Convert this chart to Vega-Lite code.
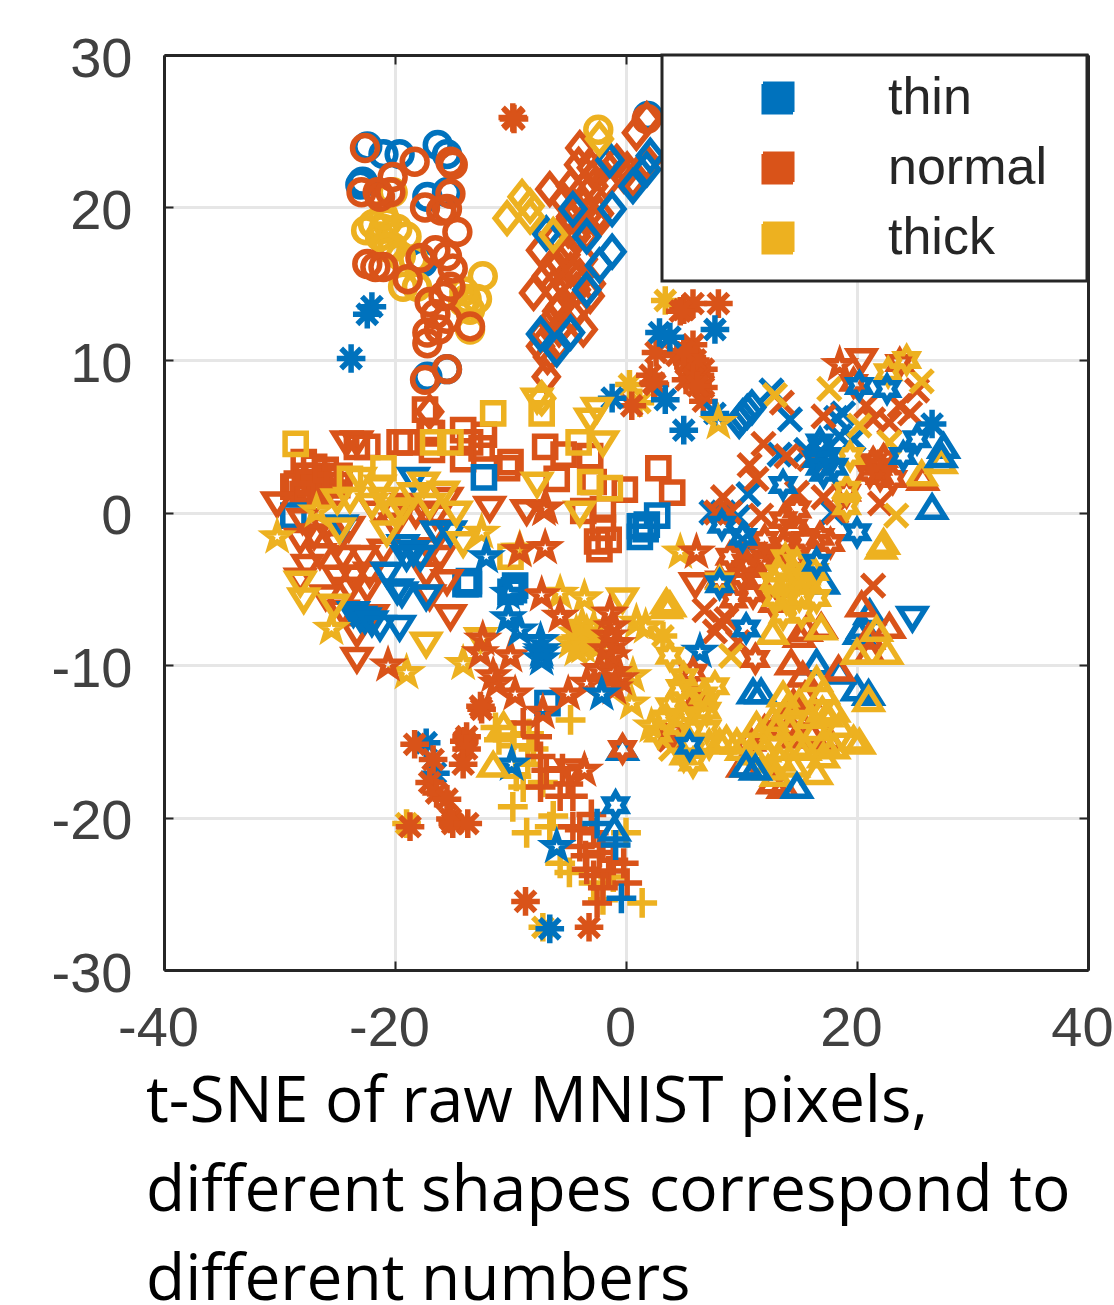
{"$schema":"https://vega.github.io/schema/vega-lite/v6.json","width":924,"height":915,"autosize":{"type":"none"},"padding":{"left":164,"top":55,"right":26,"bottom":335},"background":"white",
"title":{"text":["t-SNE of raw MNIST pixels,","different shapes correspond to","different numbers"],"orient":"bottom","anchor":"start","frame":"group","dx":-18,"offset":15,"font":"Open Sans","fontSize":64,"fontWeight":"normal","lineHeight":89,"color":"#000000"},
"config":{"view":{"stroke":null},"legend":{"strokeWidth":3}},
"layer":[{"data":{"values":[
{"x":12.6,"y":8,"c":"thin","m":"x"},{"x":14.2,"y":6.1,"c":"thin","m":"x"},{"x":18.8,"y":6.5,"c":"thin","m":"x"},{"x":18.2,"y":6.2,"c":"thin","m":"x"},{"x":18.5,"y":5,"c":"thin","m":"x"},{"x":13.3,"y":3.8,"c":"thin","m":"x"},{"x":10.6,"y":1.2,"c":"thin","m":"x"},{"x":8.4,"y":0,"c":"thin","m":"x"},{"x":9.7,"y":-0.3,"c":"thin","m":"x"},{"x":7.4,"y":0,"c":"thin","m":"x"},{"x":17.9,"y":0,"c":"thin","m":"x"},{"x":10.1,"y":-1.8,"c":"thin","m":"x"},{"x":15.6,"y":4.1,"c":"thin","m":"x"},{"x":19.7,"y":4.8,"c":"thin","m":"x"},
{"x":13.5,"y":7.2,"c":"normal","m":"x"},{"x":17.1,"y":6.3,"c":"normal","m":"x"},{"x":11.9,"y":4.5,"c":"normal","m":"x"},{"x":10.7,"y":3.1,"c":"normal","m":"x"},{"x":11.3,"y":2.2,"c":"normal","m":"x"},{"x":13.9,"y":3.7,"c":"normal","m":"x"},{"x":15.9,"y":3.5,"c":"normal","m":"x"},{"x":8.4,"y":1,"c":"normal","m":"x"},{"x":7.8,"y":0,"c":"normal","m":"x"},{"x":9,"y":0,"c":"normal","m":"x"},{"x":11.7,"y":-0.2,"c":"normal","m":"x"},{"x":22,"y":0.6,"c":"normal","m":"x"},{"x":24.6,"y":6.5,"c":"normal","m":"x"},{"x":25.2,"y":8,"c":"normal","m":"x"},{"x":21.4,"y":6.1,"c":"normal","m":"x"},{"x":22.8,"y":5.9,"c":"normal","m":"x"},{"x":20.8,"y":7,"c":"normal","m":"x"},{"x":23.7,"y":7,"c":"normal","m":"x"},{"x":18.2,"y":0,"c":"normal","m":"x"},{"x":14.8,"y":1.3,"c":"normal","m":"x"},{"x":17.1,"y":1,"c":"normal","m":"x"},{"x":6.8,"y":-6.4,"c":"normal","m":"x"},{"x":8.1,"y":-7.2,"c":"normal","m":"x"},{"x":7.7,"y":-7.8,"c":"normal","m":"x"},{"x":21.4,"y":-4.8,"c":"normal","m":"x"},{"x":8.7,"y":-7,"c":"normal","m":"x"},{"x":9.7,"y":-8.5,"c":"normal","m":"x"},{"x":3.8,"y":-14.9,"c":"normal","m":"x"},
{"x":12.9,"y":7.7,"c":"thick","m":"x"},{"x":17.6,"y":8.1,"c":"thick","m":"x"},{"x":25.6,"y":8.6,"c":"thick","m":"x"},{"x":20.2,"y":5.7,"c":"thick","m":"x"},{"x":23.4,"y":-0.2,"c":"thick","m":"x"},{"x":22.8,"y":4.6,"c":"thick","m":"x"},{"x":9.1,"y":-9.4,"c":"thick","m":"x"},{"x":3.9,"y":-15.5,"c":"thick","m":"x"},
{"x":-4.8,"y":-13.6,"c":"thick","m":"t"},{"x":-11.3,"y":-14.1,"c":"thick","m":"t"},{"x":-11,"y":-14.9,"c":"thick","m":"t"},{"x":-9.8,"y":-15.3,"c":"thick","m":"t"},{"x":-9.5,"y":-17.3,"c":"thick","m":"t"},{"x":-8.9,"y":-18,"c":"thick","m":"t"},{"x":-9.8,"y":-19.3,"c":"thick","m":"t"},{"x":-6.3,"y":-19.9,"c":"thick","m":"t"},{"x":-8.6,"y":-21,"c":"thick","m":"t"},{"x":-6.6,"y":-20.6,"c":"thick","m":"t"},{"x":-5.7,"y":-23,"c":"thick","m":"t"},{"x":-4.9,"y":-23.6,"c":"thick","m":"t"},{"x":-2.8,"y":-24.3,"c":"thick","m":"t"},{"x":-1.1,"y":-23.9,"c":"thick","m":"t"},{"x":-2,"y":-25.4,"c":"thick","m":"t"},{"x":1.4,"y":-25.6,"c":"thick","m":"t"},{"x":0,"y":-21,"c":"thick","m":"t"},{"x":-7.2,"y":-17.7,"c":"thick","m":"t"},{"x":-8.4,"y":-14.5,"c":"thick","m":"t"},{"x":-8,"y":-15.5,"c":"thick","m":"t"},{"x":-9.7,"y":-14.6,"c":"thick","m":"t"},{"x":-8.5,"y":-16.5,"c":"thick","m":"t"},
{"x":-8.9,"y":-13.8,"c":"normal","m":"t"},{"x":-7.7,"y":-14.7,"c":"normal","m":"t"},{"x":-7.4,"y":-16,"c":"normal","m":"t"},{"x":-6.9,"y":-16.9,"c":"normal","m":"t"},{"x":-7.4,"y":-18,"c":"normal","m":"t"},{"x":-5.7,"y":-18.6,"c":"normal","m":"t"},{"x":-4.6,"y":-18.6,"c":"normal","m":"t"},{"x":-4,"y":-20.8,"c":"normal","m":"t"},{"x":-2.8,"y":-21,"c":"normal","m":"t"},{"x":-4,"y":-21.9,"c":"normal","m":"t"},{"x":-3.4,"y":-23.4,"c":"normal","m":"t"},{"x":-2.3,"y":-22.3,"c":"normal","m":"t"},{"x":-1.1,"y":-22.8,"c":"normal","m":"t"},{"x":-0.2,"y":-23,"c":"normal","m":"t"},{"x":-2.5,"y":-25.6,"c":"normal","m":"t"},{"x":0.1,"y":-24.3,"c":"normal","m":"t"},{"x":-4.6,"y":-20.6,"c":"normal","m":"t"},{"x":-2,"y":-21.8,"c":"normal","m":"t"},{"x":-3.5,"y":-22.5,"c":"normal","m":"t"},{"x":-1.5,"y":-23.5,"c":"normal","m":"t"},{"x":-2.8,"y":-23.8,"c":"normal","m":"t"},{"x":-3,"y":-19.8,"c":"normal","m":"t"},{"x":-5.5,"y":-16.8,"c":"normal","m":"t"},{"x":-5,"y":-17.8,"c":"normal","m":"t"},{"x":-2,"y":-24.6,"c":"normal","m":"t"},
{"x":-0.4,"y":-25.3,"c":"thin","m":"t"},{"x":-0.9,"y":-21.8,"c":"thin","m":"t"},{"x":-2.5,"y":-20.4,"c":"thin","m":"t"},
{"x":-17.3,"y":-15.1,"c":"thin","m":"a"},{"x":-16.5,"y":-17.1,"c":"thin","m":"a"},{"x":-22,"y":13.5,"c":"thin","m":"a"},{"x":-22.4,"y":13,"c":"thin","m":"a"},{"x":-23.8,"y":10.1,"c":"thin","m":"a"},
{"x":-19,"y":-20.4,"c":"thick","m":"a"},{"x":-7.2,"y":-27.2,"c":"thick","m":"a"},{"x":3.2,"y":-8.1,"c":"thick","m":"a"},{"x":3.4,"y":13.9,"c":"thick","m":"a"},{"x":1.2,"y":7.2,"c":"thick","m":"a"},{"x":0.3,"y":8.4,"c":"thick","m":"a"},
{"x":-12.5,"y":-12.9,"c":"normal","m":"a"},{"x":-12.6,"y":-12.7,"c":"normal","m":"a"},{"x":-13.8,"y":-14.7,"c":"normal","m":"a"},{"x":-14,"y":-15,"c":"normal","m":"a"},{"x":-13.8,"y":-15.5,"c":"normal","m":"a"},{"x":-14.1,"y":-16.5,"c":"normal","m":"a"},{"x":-18.3,"y":-15.2,"c":"normal","m":"a"},{"x":-16.7,"y":-16.2,"c":"normal","m":"a"},{"x":-17,"y":-17.7,"c":"normal","m":"a"},{"x":-16.4,"y":-18.4,"c":"normal","m":"a"},{"x":-15.5,"y":-18.8,"c":"normal","m":"a"},{"x":-15.2,"y":-20.1,"c":"normal","m":"a"},{"x":-15,"y":-20.4,"c":"normal","m":"a"},{"x":-13.7,"y":-20.4,"c":"normal","m":"a"},{"x":-18.7,"y":-20.6,"c":"normal","m":"a"},{"x":-8.7,"y":-25.5,"c":"normal","m":"a"},{"x":-3.2,"y":-27.2,"c":"normal","m":"a"},{"x":-9.8,"y":25.9,"c":"normal","m":"a"},{"x":-9.7,"y":25.8,"c":"normal","m":"a"},{"x":5,"y":13.3,"c":"normal","m":"a"},{"x":5.8,"y":13.7,"c":"normal","m":"a"},{"x":8,"y":13.7,"c":"normal","m":"a"},{"x":4.7,"y":13.2,"c":"normal","m":"a"},{"x":5.8,"y":11,"c":"normal","m":"a"},{"x":2.6,"y":10.5,"c":"normal","m":"a"},{"x":4.4,"y":10.3,"c":"normal","m":"a"},{"x":6.7,"y":9.4,"c":"normal","m":"a"},{"x":5.5,"y":9.4,"c":"normal","m":"a"},{"x":6.4,"y":9,"c":"normal","m":"a"},{"x":5.2,"y":8.7,"c":"normal","m":"a"},{"x":6.7,"y":8.2,"c":"normal","m":"a"},{"x":6.7,"y":7.3,"c":"normal","m":"a"},{"x":2.4,"y":8.5,"c":"normal","m":"a"},{"x":2.1,"y":9,"c":"normal","m":"a"},{"x":0.5,"y":7,"c":"normal","m":"a"},{"x":2.5,"y":8.4,"c":"normal","m":"a"},{"x":5.3,"y":9.8,"c":"normal","m":"a"},{"x":6,"y":10,"c":"normal","m":"a"},{"x":5.8,"y":8.8,"c":"normal","m":"a"},{"x":6.2,"y":8.3,"c":"normal","m":"a"},{"x":5,"y":10.6,"c":"normal","m":"a"},
{"x":2.9,"y":11.8,"c":"thin","m":"a"},{"x":3.8,"y":11.5,"c":"thin","m":"a"},{"x":7.7,"y":12,"c":"thin","m":"a"},{"x":3.4,"y":7.4,"c":"thin","m":"a"},{"x":5,"y":5.4,"c":"thin","m":"a"},{"x":7.7,"y":6.5,"c":"thin","m":"a"},{"x":-1.2,"y":7.5,"c":"thin","m":"a"},{"x":-6.6,"y":-27.3,"c":"thin","m":"a"},
{"x":-22.4,"y":24,"c":"thin","m":"o"},{"x":-21,"y":23.5,"c":"thin","m":"o"},{"x":-19.6,"y":23.5,"c":"thin","m":"o"},{"x":-16.3,"y":24.1,"c":"thin","m":"o"},{"x":-15.5,"y":23.5,"c":"thin","m":"o"},{"x":-22.8,"y":21.7,"c":"thin","m":"o"},{"x":-23,"y":21.5,"c":"thin","m":"o"},{"x":-17.2,"y":20.7,"c":"thin","m":"o"},{"x":-15.5,"y":21,"c":"thin","m":"o"},{"x":-17.6,"y":16.4,"c":"thin","m":"o"},{"x":-17.2,"y":8.9,"c":"thin","m":"o"},{"x":-15.5,"y":9.4,"c":"thin","m":"o"},{"x":1.9,"y":26,"c":"thin","m":"o"},
{"x":-21.9,"y":18.9,"c":"thick","m":"o"},{"x":-20.7,"y":19,"c":"thick","m":"o"},{"x":-19.8,"y":18.6,"c":"thick","m":"o"},{"x":-21.3,"y":18.1,"c":"thick","m":"o"},{"x":-20.2,"y":17.4,"c":"thick","m":"o"},{"x":-19,"y":18.1,"c":"thick","m":"o"},{"x":-21,"y":18.6,"c":"thick","m":"o"},{"x":-20.2,"y":21,"c":"thick","m":"o"},{"x":-19.3,"y":14.8,"c":"thick","m":"o"},{"x":-18.1,"y":14.8,"c":"thick","m":"o"},{"x":-13.8,"y":14,"c":"thick","m":"o"},{"x":-12.9,"y":14,"c":"thick","m":"o"},{"x":-12.4,"y":15.5,"c":"thick","m":"o"},{"x":-13.5,"y":12,"c":"thick","m":"o"},{"x":-14.1,"y":13.8,"c":"thick","m":"o"},{"x":-18.4,"y":16.6,"c":"thick","m":"o"},{"x":-20.7,"y":17.4,"c":"thick","m":"o"},{"x":-2.4,"y":25.1,"c":"thick","m":"o"},{"x":-22.5,"y":18.5,"c":"thick","m":"o"},{"x":-19.5,"y":16.8,"c":"thick","m":"o"},{"x":-13.5,"y":13.3,"c":"thick","m":"o"},{"x":-14,"y":14.5,"c":"thick","m":"o"},{"x":-21,"y":19.5,"c":"thick","m":"o"},
{"x":-22.6,"y":23.9,"c":"normal","m":"o"},{"x":-18.3,"y":23,"c":"normal","m":"o"},{"x":-20.2,"y":22,"c":"normal","m":"o"},{"x":-15.2,"y":23,"c":"normal","m":"o"},{"x":-15,"y":22.8,"c":"normal","m":"o"},{"x":-22.9,"y":21,"c":"normal","m":"o"},{"x":-21.3,"y":20.7,"c":"normal","m":"o"},{"x":-20.4,"y":21,"c":"normal","m":"o"},{"x":-17.4,"y":20,"c":"normal","m":"o"},{"x":-15.2,"y":20.9,"c":"normal","m":"o"},{"x":-15.5,"y":19.9,"c":"normal","m":"o"},{"x":-14.6,"y":18.4,"c":"normal","m":"o"},{"x":-22.4,"y":16.3,"c":"normal","m":"o"},{"x":-21.7,"y":16.1,"c":"normal","m":"o"},{"x":-21,"y":16.1,"c":"normal","m":"o"},{"x":-17.8,"y":16.7,"c":"normal","m":"o"},{"x":-16.5,"y":17.2,"c":"normal","m":"o"},{"x":-15.5,"y":16.8,"c":"normal","m":"o"},{"x":-15.2,"y":14.8,"c":"normal","m":"o"},{"x":-18.9,"y":15.3,"c":"normal","m":"o"},{"x":-17,"y":13.8,"c":"normal","m":"o"},{"x":-15.5,"y":12.7,"c":"normal","m":"o"},{"x":-17.2,"y":11.8,"c":"normal","m":"o"},{"x":-17.2,"y":11.1,"c":"normal","m":"o"},{"x":-15.5,"y":9.4,"c":"normal","m":"o"},{"x":-17.4,"y":8.7,"c":"normal","m":"o"},{"x":-13.5,"y":12.2,"c":"normal","m":"o"},{"x":-15.8,"y":14.2,"c":"normal","m":"o"},{"x":1.8,"y":25.8,"c":"normal","m":"o"},{"x":-16.2,"y":12,"c":"normal","m":"o"},{"x":-16.5,"y":13,"c":"normal","m":"o"},{"x":-15,"y":16,"c":"normal","m":"o"},{"x":-16,"y":19.8,"c":"normal","m":"o"},{"x":-21.5,"y":21,"c":"normal","m":"o"},
{"x":-4,"y":23.9,"c":"normal","m":"d"},{"x":-4.1,"y":22.8,"c":"normal","m":"d"},{"x":-6.6,"y":21.2,"c":"normal","m":"d"},{"x":-5.4,"y":20.5,"c":"normal","m":"d"},{"x":-2.5,"y":22.3,"c":"normal","m":"d"},{"x":-2.8,"y":21.4,"c":"normal","m":"d"},{"x":-1.7,"y":21.6,"c":"normal","m":"d"},{"x":-3.7,"y":21.2,"c":"normal","m":"d"},{"x":-4.8,"y":21.4,"c":"normal","m":"d"},{"x":0.1,"y":22.5,"c":"normal","m":"d"},{"x":0.9,"y":24.9,"c":"normal","m":"d"},{"x":1.8,"y":25.8,"c":"normal","m":"d"},{"x":-0.2,"y":22.1,"c":"normal","m":"d"},{"x":0.6,"y":21.8,"c":"normal","m":"d"},{"x":1.8,"y":23,"c":"normal","m":"d"},{"x":-4.8,"y":19.4,"c":"normal","m":"d"},{"x":-3.7,"y":20.1,"c":"normal","m":"d"},{"x":-2.3,"y":19.6,"c":"normal","m":"d"},{"x":-2.5,"y":19,"c":"normal","m":"d"},{"x":-7.4,"y":17.2,"c":"normal","m":"d"},{"x":-6,"y":18.1,"c":"normal","m":"d"},{"x":-5.1,"y":17.2,"c":"normal","m":"d"},{"x":-4.3,"y":18.1,"c":"normal","m":"d"},{"x":-3.4,"y":18.3,"c":"normal","m":"d"},{"x":-6.9,"y":15.5,"c":"normal","m":"d"},{"x":-5.7,"y":16.4,"c":"normal","m":"d"},{"x":-4.8,"y":15.9,"c":"normal","m":"d"},{"x":-3.7,"y":16.6,"c":"normal","m":"d"},{"x":-8,"y":14.4,"c":"normal","m":"d"},{"x":-6.3,"y":14.8,"c":"normal","m":"d"},{"x":-5.1,"y":14.8,"c":"normal","m":"d"},{"x":-3.1,"y":14.2,"c":"normal","m":"d"},{"x":-4.3,"y":14.6,"c":"normal","m":"d"},{"x":-7.2,"y":11.8,"c":"normal","m":"d"},{"x":-5.7,"y":13.5,"c":"normal","m":"d"},{"x":-4.6,"y":12.9,"c":"normal","m":"d"},{"x":-3.7,"y":12,"c":"normal","m":"d"},{"x":-7.4,"y":10.9,"c":"normal","m":"d"},{"x":-6,"y":10.9,"c":"normal","m":"d"},{"x":-5.4,"y":12.4,"c":"normal","m":"d"},{"x":-6.9,"y":8.9,"c":"normal","m":"d"},{"x":-17,"y":6.6,"c":"normal","m":"d"},{"x":-6.2,"y":16,"c":"normal","m":"d"},{"x":-5.2,"y":16.9,"c":"normal","m":"d"},{"x":-6,"y":13.2,"c":"normal","m":"d"},{"x":-5.8,"y":12,"c":"normal","m":"d"},{"x":-4.2,"y":13.4,"c":"normal","m":"d"},{"x":-3,"y":15,"c":"normal","m":"d"},{"x":-6.5,"y":12.5,"c":"normal","m":"d"},{"x":-4.4,"y":20,"c":"normal","m":"d"},{"x":-3.3,"y":19.5,"c":"normal","m":"d"},{"x":-3,"y":22.6,"c":"normal","m":"d"},{"x":-1.8,"y":22.8,"c":"normal","m":"d"},{"x":-0.8,"y":23,"c":"normal","m":"d"},{"x":-6.8,"y":10.2,"c":"normal","m":"d"},{"x":-5,"y":18.5,"c":"normal","m":"d"},{"x":-3.8,"y":18.8,"c":"normal","m":"d"},{"x":-4,"y":15.5,"c":"normal","m":"d"},
{"x":-4.6,"y":19.9,"c":"thin","m":"d"},{"x":-1.2,"y":19.9,"c":"thin","m":"d"},{"x":-1.2,"y":17.1,"c":"thin","m":"d"},{"x":-2.3,"y":16.2,"c":"thin","m":"d"},{"x":-3.4,"y":14.6,"c":"thin","m":"d"},{"x":-6.9,"y":18.3,"c":"thin","m":"d"},{"x":-1.4,"y":23.1,"c":"thin","m":"d"},{"x":0.6,"y":21.4,"c":"thin","m":"d"},{"x":1.8,"y":22.5,"c":"thin","m":"d"},{"x":2.1,"y":23.4,"c":"thin","m":"d"},{"x":-7.4,"y":11.7,"c":"thin","m":"d"},{"x":-6,"y":10.7,"c":"thin","m":"d"},{"x":-4.8,"y":11.8,"c":"thin","m":"d"},{"x":-3.4,"y":18.1,"c":"thin","m":"d"},{"x":10.9,"y":6.9,"c":"thin","m":"d"},{"x":10.5,"y":6.6,"c":"thin","m":"d"},{"x":10.1,"y":6.3,"c":"thin","m":"d"},{"x":9.8,"y":6,"c":"thin","m":"d"},
{"x":-10.3,"y":19.3,"c":"thick","m":"d"},{"x":-9,"y":20.7,"c":"thick","m":"d"},{"x":-8.3,"y":20.1,"c":"thick","m":"d"},{"x":-8.3,"y":19.4,"c":"thick","m":"d"},{"x":-6.3,"y":18.2,"c":"thick","m":"d"},{"x":-2.3,"y":24.5,"c":"thick","m":"d"},{"x":-7.3,"y":7.5,"c":"thick","m":"d"},
{"x":-17.4,"y":6.75,"c":"normal","m":"s"},{"x":-16.8,"y":5.2,"c":"normal","m":"s"},{"x":-27.9,"y":3.3,"c":"normal","m":"s"},{"x":-28.5,"y":1.9,"c":"normal","m":"s"},{"x":-27.6,"y":2.4,"c":"normal","m":"s"},{"x":-26.8,"y":2.4,"c":"normal","m":"s"},{"x":-25.6,"y":2.2,"c":"normal","m":"s"},{"x":-24.8,"y":2.4,"c":"normal","m":"s"},{"x":-28.8,"y":1.7,"c":"normal","m":"s"},{"x":-27.8,"y":1.5,"c":"normal","m":"s"},{"x":-26.5,"y":1.5,"c":"normal","m":"s"},{"x":-25.3,"y":1.3,"c":"normal","m":"s"},{"x":-23.3,"y":4.3,"c":"normal","m":"s"},{"x":-22.4,"y":4.3,"c":"normal","m":"s"},{"x":-19.6,"y":4.6,"c":"normal","m":"s"},{"x":-19,"y":4.6,"c":"normal","m":"s"},{"x":-17,"y":5.2,"c":"normal","m":"s"},{"x":-16.8,"y":4.1,"c":"normal","m":"s"},{"x":-14.1,"y":5.4,"c":"normal","m":"s"},{"x":-12.3,"y":5.1,"c":"normal","m":"s"},{"x":-14.1,"y":3.5,"c":"normal","m":"s"},{"x":-13.5,"y":4.6,"c":"normal","m":"s"},{"x":-12.5,"y":4.2,"c":"normal","m":"s"},{"x":-10.3,"y":2.9,"c":"normal","m":"s"},{"x":-10,"y":3.3,"c":"normal","m":"s"},{"x":-7,"y":4.3,"c":"normal","m":"s"},{"x":-5.4,"y":3.8,"c":"normal","m":"s"},{"x":-3.1,"y":3.7,"c":"normal","m":"s"},{"x":-6,"y":2.2,"c":"normal","m":"s"},{"x":-2.8,"y":2,"c":"normal","m":"s"},{"x":-0.1,"y":1.5,"c":"normal","m":"s"},{"x":2.8,"y":2.9,"c":"normal","m":"s"},{"x":4,"y":1.3,"c":"normal","m":"s"},{"x":-2,"y":0.2,"c":"normal","m":"s"},{"x":-3.7,"y":0.1,"c":"normal","m":"s"},{"x":-2,"y":-1,"c":"normal","m":"s"},{"x":-1.5,"y":-1.8,"c":"normal","m":"s"},{"x":-2.3,"y":-2.4,"c":"normal","m":"s"},{"x":-2.5,"y":-1.9,"c":"normal","m":"s"},{"x":-27,"y":3,"c":"normal","m":"s"},{"x":-27.5,"y":2,"c":"normal","m":"s"},{"x":-26,"y":1.8,"c":"normal","m":"s"},{"x":-28,"y":1.2,"c":"normal","m":"s"},{"x":-26,"y":2.8,"c":"normal","m":"s"},{"x":-25,"y":1.8,"c":"normal","m":"s"},
{"x":-12.3,"y":2.3,"c":"thin","m":"s"},{"x":-13.8,"y":-4.6,"c":"thin","m":"s"},{"x":-13.6,"y":-4.5,"c":"thin","m":"s"},{"x":-13.9,"y":-4.7,"c":"thin","m":"s"},{"x":-13.7,"y":-4.6,"c":"thin","m":"s"},{"x":-13.6,"y":-4.7,"c":"thin","m":"s"},{"x":-9.6,"y":-4.8,"c":"thin","m":"s"},{"x":-9.7,"y":-5.1,"c":"thin","m":"s"},{"x":-10,"y":-5.2,"c":"thin","m":"s"},{"x":-28.8,"y":-0.2,"c":"thin","m":"s"},{"x":1.2,"y":-1.6,"c":"thin","m":"s"},{"x":1.8,"y":-0.8,"c":"thin","m":"s"},{"x":2.7,"y":-0.2,"c":"thin","m":"s"},{"x":1.7,"y":-1.1,"c":"thin","m":"s"},{"x":1.2,"y":-0.9,"c":"thin","m":"s"},{"x":-6.8,"y":-12.5,"c":"thin","m":"s"},
{"x":-28.6,"y":4.5,"c":"thick","m":"s"},{"x":-11.5,"y":6.5,"c":"thick","m":"s"},{"x":-7.3,"y":6.5,"c":"thick","m":"s"},{"x":-21,"y":2.9,"c":"thick","m":"s"},{"x":-16.7,"y":4.6,"c":"thick","m":"s"},{"x":-15.2,"y":4.6,"c":"thick","m":"s"},{"x":-3.1,"y":2,"c":"thick","m":"s"},{"x":-1.4,"y":1.6,"c":"thick","m":"s"},{"x":-10,"y":-2.9,"c":"thick","m":"s"},{"x":-4.1,"y":4.6,"c":"thick","m":"s"},{"x":-23.9,"y":2.2,"c":"thick","m":"s"},
{"x":-30.2,"y":0.6,"c":"normal","m":"v"},{"x":-24.2,"y":4.6,"c":"normal","m":"v"},{"x":-23.3,"y":4.6,"c":"normal","m":"v"},{"x":-11.8,"y":0.3,"c":"normal","m":"v"},{"x":-8.6,"y":0.1,"c":"normal","m":"v"},{"x":-15.5,"y":0.9,"c":"normal","m":"v"},{"x":-17.3,"y":0,"c":"normal","m":"v"},{"x":-16.5,"y":-0.2,"c":"normal","m":"v"},{"x":-18.2,"y":-0.1,"c":"normal","m":"v"},{"x":-21.6,"y":0,"c":"normal","m":"v"},{"x":-28.2,"y":-1.8,"c":"normal","m":"v"},{"x":-27.6,"y":-3.5,"c":"normal","m":"v"},{"x":-28.2,"y":-4.4,"c":"normal","m":"v"},{"x":-24.5,"y":-2.9,"c":"normal","m":"v"},{"x":-22.7,"y":-2.9,"c":"normal","m":"v"},{"x":-25,"y":-4.2,"c":"normal","m":"v"},{"x":-23.6,"y":-4.2,"c":"normal","m":"v"},{"x":-22.2,"y":-4,"c":"normal","m":"v"},{"x":-23.9,"y":-5,"c":"normal","m":"v"},{"x":-22.4,"y":-5,"c":"normal","m":"v"},{"x":-17,"y":-2.4,"c":"normal","m":"v"},{"x":-16.1,"y":-2.9,"c":"normal","m":"v"},{"x":-17.3,"y":-4,"c":"normal","m":"v"},{"x":-17,"y":-5.5,"c":"normal","m":"v"},{"x":-15.2,"y":-6.8,"c":"normal","m":"v"},{"x":-21.9,"y":-6.8,"c":"normal","m":"v"},{"x":-23.3,"y":-7.9,"c":"normal","m":"v"},{"x":-23.3,"y":-9.6,"c":"normal","m":"v"},{"x":6,"y":-4.7,"c":"normal","m":"v"},{"x":20.4,"y":10,"c":"normal","m":"v"},{"x":-4.8,"y":-16.9,"c":"normal","m":"v"},{"x":-26,"y":-1,"c":"normal","m":"v"},{"x":-25,"y":-2,"c":"normal","m":"v"},{"x":-28,"y":-0.5,"c":"normal","m":"v"},{"x":-26.5,"y":-2.8,"c":"normal","m":"v"},{"x":-24,"y":-1,"c":"normal","m":"v"},{"x":-21,"y":-2.5,"c":"normal","m":"v"},{"x":-20,"y":-0.8,"c":"normal","m":"v"},{"x":-19,"y":0.5,"c":"normal","m":"v"},{"x":-26,"y":-5.5,"c":"normal","m":"v"},{"x":-24.5,"y":-6.5,"c":"normal","m":"v"},{"x":-16.5,"y":-1.2,"c":"normal","m":"v"},{"x":-15.5,"y":-4.5,"c":"normal","m":"v"},{"x":-27,"y":-1.5,"c":"normal","m":"v"},
{"x":-18.4,"y":2.2,"c":"thin","m":"v"},{"x":-24.6,"y":-0.9,"c":"thin","m":"v"},{"x":-19.3,"y":-2.2,"c":"thin","m":"v"},{"x":-18.4,"y":-2.6,"c":"thin","m":"v"},{"x":-17.8,"y":-2.9,"c":"thin","m":"v"},{"x":-19,"y":-2.9,"c":"thin","m":"v"},{"x":-15.2,"y":-1.3,"c":"thin","m":"v"},{"x":-16.4,"y":-1.3,"c":"thin","m":"v"},{"x":-19.4,"y":-5.3,"c":"thin","m":"v"},{"x":-19.8,"y":-5.1,"c":"thin","m":"v"},{"x":-17.3,"y":-5.5,"c":"thin","m":"v"},{"x":-23.6,"y":-6.6,"c":"thin","m":"v"},{"x":-22.6,"y":-7,"c":"thin","m":"v"},{"x":-21.3,"y":-7.5,"c":"thin","m":"v"},{"x":-19.6,"y":-7.5,"c":"thin","m":"v"},{"x":-23,"y":-6.9,"c":"thin","m":"v"},{"x":-22,"y":-7.2,"c":"thin","m":"v"},{"x":-20.7,"y":-4,"c":"thin","m":"v"},{"x":24.8,"y":-6.9,"c":"thin","m":"v"},
{"x":-17.5,"y":1.9,"c":"thick","m":"v"},{"x":-15.8,"y":1.3,"c":"thick","m":"v"},{"x":-23,"y":2.2,"c":"thick","m":"v"},{"x":-21.3,"y":1.7,"c":"thick","m":"v"},{"x":-14.7,"y":0,"c":"thick","m":"v"},{"x":-20.7,"y":-1.3,"c":"thick","m":"v"},{"x":-24.8,"y":-1.1,"c":"thick","m":"v"},{"x":-14.1,"y":-2,"c":"thick","m":"v"},{"x":-28.2,"y":-4.6,"c":"thick","m":"v"},{"x":-27.9,"y":-5.7,"c":"thick","m":"v"},{"x":-17.3,"y":-8.6,"c":"thick","m":"v"},{"x":-25.3,"y":-6.1,"c":"thick","m":"v"},{"x":-7.7,"y":1.9,"c":"thick","m":"v"},{"x":-2,"y":4.6,"c":"thick","m":"v"},{"x":-3.1,"y":6.1,"c":"thick","m":"v"},{"x":-2.5,"y":6.8,"c":"thick","m":"v"},{"x":-7.7,"y":7.4,"c":"thick","m":"v"},{"x":-4,"y":0,"c":"thick","m":"v"},{"x":-12.6,"y":-8.3,"c":"thick","m":"v"},{"x":-19.3,"y":0.2,"c":"thick","m":"v"},{"x":-23.9,"y":0.9,"c":"thick","m":"v"},{"x":-21,"y":0.9,"c":"thick","m":"v"},{"x":-18.4,"y":1.2,"c":"thick","m":"v"},{"x":-0.3,"y":-5.7,"c":"thick","m":"v"},{"x":-25,"y":0.8,"c":"thick","m":"v"},{"x":-22,"y":0.5,"c":"thick","m":"v"},{"x":-20,"y":0,"c":"thick","m":"v"},{"x":-17,"y":0.5,"c":"thick","m":"v"},
{"x":-5.7,"y":-5.3,"c":"thick","m":"p"},{"x":-3.6,"y":-5.6,"c":"thick","m":"p"},{"x":-3.4,"y":-7.9,"c":"thick","m":"p"},{"x":-4.3,"y":-7.9,"c":"thick","m":"p"},{"x":-2.8,"y":-7.6,"c":"thick","m":"p"},{"x":-3.7,"y":-8.8,"c":"thick","m":"p"},{"x":-4.3,"y":-9,"c":"thick","m":"p"},{"x":-2.5,"y":-8.8,"c":"thick","m":"p"},{"x":0.9,"y":-7.2,"c":"thick","m":"p"},{"x":0.6,"y":-10.7,"c":"thick","m":"p"},{"x":0.5,"y":-12.5,"c":"thick","m":"p"},{"x":-14.1,"y":-9.9,"c":"thick","m":"p"},{"x":-19,"y":-10.5,"c":"thick","m":"p"},{"x":2.2,"y":-14,"c":"thick","m":"p"},{"x":-26.8,"y":0.1,"c":"thick","m":"p"},{"x":-30.2,"y":-1.6,"c":"thick","m":"p"},{"x":-12.5,"y":-1.3,"c":"thick","m":"p"},{"x":-9.2,"y":-2.4,"c":"thick","m":"p"},{"x":-25.5,"y":-7.6,"c":"thick","m":"p"},{"x":8,"y":5.9,"c":"thick","m":"p"},{"x":4.7,"y":-2.6,"c":"thick","m":"p"},{"x":-4,"y":-8.4,"c":"thick","m":"p"},{"x":-3.2,"y":-8.5,"c":"thick","m":"p"},{"x":-4.8,"y":-8.5,"c":"thick","m":"p"},{"x":-3.8,"y":-7.4,"c":"thick","m":"p"},{"x":1.7,"y":-7.5,"c":"thick","m":"p"},
{"x":-7.3,"y":-5.4,"c":"normal","m":"p"},{"x":-5.7,"y":-6.8,"c":"normal","m":"p"},{"x":-12.4,"y":-8.3,"c":"normal","m":"p"},{"x":-12.6,"y":-9.2,"c":"normal","m":"p"},{"x":-10,"y":-9.4,"c":"normal","m":"p"},{"x":-11.5,"y":-10.7,"c":"normal","m":"p"},{"x":-11.2,"y":-11.2,"c":"normal","m":"p"},{"x":-9.6,"y":-11.9,"c":"normal","m":"p"},{"x":-5,"y":-11.9,"c":"normal","m":"p"},{"x":-3.4,"y":-11.2,"c":"normal","m":"p"},{"x":-1.4,"y":-6.6,"c":"normal","m":"p"},{"x":-1.4,"y":-8.1,"c":"normal","m":"p"},{"x":-1.1,"y":-9.4,"c":"normal","m":"p"},{"x":-1.1,"y":-10.5,"c":"normal","m":"p"},{"x":-0.5,"y":-10.9,"c":"normal","m":"p"},{"x":-2.3,"y":-10.3,"c":"normal","m":"p"},{"x":-1.7,"y":-9,"c":"normal","m":"p"},{"x":-7.2,"y":-13.1,"c":"normal","m":"p"},{"x":-3.6,"y":-16.9,"c":"normal","m":"p"},{"x":-20.6,"y":-10,"c":"normal","m":"p"},{"x":-7,"y":-2.3,"c":"normal","m":"p"},{"x":-9.2,"y":-2.5,"c":"normal","m":"p"},{"x":-7.1,"y":0.2,"c":"normal","m":"p"},{"x":-6.9,"y":0.3,"c":"normal","m":"p"},{"x":6.1,"y":-2.6,"c":"normal","m":"p"},{"x":18.5,"y":9.7,"c":"normal","m":"p"},{"x":-1.2,"y":-7.5,"c":"normal","m":"p"},{"x":-0.8,"y":-8.6,"c":"normal","m":"p"},{"x":-1,"y":-11.5,"c":"normal","m":"p"},
{"x":-10.2,"y":-6.9,"c":"thin","m":"p"},{"x":-9.2,"y":-7.7,"c":"thin","m":"p"},{"x":-7.4,"y":-8.4,"c":"thin","m":"p"},{"x":-7.3,"y":-9.2,"c":"thin","m":"p"},{"x":-7.3,"y":-9.6,"c":"thin","m":"p"},{"x":-7.3,"y":-9,"c":"thin","m":"p"},{"x":-9.9,"y":-16.5,"c":"thin","m":"p"},{"x":-6,"y":-21.9,"c":"thin","m":"p"},{"x":-2.1,"y":-11.9,"c":"thin","m":"p"},{"x":-10.2,"y":-5.3,"c":"thin","m":"p"},{"x":-12.1,"y":-2.9,"c":"thin","m":"p"},{"x":6.4,"y":-9.1,"c":"thin","m":"p"},
{"x":17.1,"y":-4.6,"c":"thin","m":"u"},{"x":21.1,"y":-6.6,"c":"thin","m":"u"},{"x":20.5,"y":-7.5,"c":"thin","m":"u"},{"x":20.2,"y":-7.9,"c":"thin","m":"u"},{"x":16.5,"y":-9.9,"c":"thin","m":"u"},{"x":11,"y":-11.8,"c":"thin","m":"u"},{"x":11.7,"y":-11.8,"c":"thin","m":"u"},{"x":20,"y":-11.6,"c":"thin","m":"u"},{"x":21,"y":-11.9,"c":"thin","m":"u"},{"x":18.5,"y":-10.5,"c":"thin","m":"u"},{"x":27.5,"y":4.3,"c":"thin","m":"u"},{"x":-0.3,"y":-15.5,"c":"thin","m":"u"},{"x":-1,"y":-20.8,"c":"thin","m":"u"},
{"x":15.6,"y":-7.7,"c":"normal","m":"u"},{"x":15,"y":-8.1,"c":"normal","m":"u"},{"x":16.9,"y":-7.5,"c":"normal","m":"u"},{"x":14.3,"y":-9.9,"c":"normal","m":"u"},{"x":15.3,"y":-10.7,"c":"normal","m":"u"},{"x":18.4,"y":-10.3,"c":"normal","m":"u"},{"x":20.4,"y":-6.1,"c":"normal","m":"u"},{"x":22.8,"y":-7.5,"c":"normal","m":"u"},{"x":21.1,"y":-9.2,"c":"normal","m":"u"},{"x":10.7,"y":-14.9,"c":"normal","m":"u"},{"x":14.5,"y":-12.5,"c":"normal","m":"u"},{"x":13.6,"y":-13.3,"c":"normal","m":"u"},{"x":14.8,"y":-13.3,"c":"normal","m":"u"},{"x":10.1,"y":-16.6,"c":"normal","m":"u"},{"x":12.7,"y":-17.7,"c":"normal","m":"u"},{"x":13.6,"y":-18,"c":"normal","m":"u"},{"x":25.7,"y":2.2,"c":"normal","m":"u"},{"x":13,"y":-14,"c":"normal","m":"u"},{"x":12,"y":-14.2,"c":"normal","m":"u"},{"x":15.5,"y":-12,"c":"normal","m":"u"},{"x":16,"y":-14.5,"c":"normal","m":"u"},{"x":17.5,"y":-14.8,"c":"normal","m":"u"},{"x":14.8,"y":-14.7,"c":"normal","m":"u"},{"x":21,"y":-8.2,"c":"normal","m":"u"},
{"x":3.5,"y":-5.9,"c":"thick","m":"u"},{"x":3.5,"y":-6.2,"c":"thick","m":"u"},{"x":3.8,"y":-6.1,"c":"thick","m":"u"},{"x":12.7,"y":-7.9,"c":"thick","m":"u"},{"x":16.9,"y":-7.6,"c":"thick","m":"u"},{"x":21.7,"y":-7.7,"c":"thick","m":"u"},{"x":22.6,"y":-9.2,"c":"thick","m":"u"},{"x":20,"y":-9.2,"c":"thick","m":"u"},{"x":22.3,"y":-2,"c":"thick","m":"u"},{"x":22.1,"y":-2.3,"c":"thick","m":"u"},{"x":13.6,"y":-12,"c":"thick","m":"u"},{"x":16.5,"y":-11,"c":"thick","m":"u"},{"x":17.1,"y":-11.8,"c":"thick","m":"u"},{"x":21,"y":-12.3,"c":"thick","m":"u"},{"x":11.3,"y":-14,"c":"thick","m":"u"},{"x":12.7,"y":-13.6,"c":"thick","m":"u"},{"x":8.7,"y":-14.9,"c":"thick","m":"u"},{"x":8.1,"y":-15.1,"c":"thick","m":"u"},{"x":9.6,"y":-15.1,"c":"thick","m":"u"},{"x":14.2,"y":-14.2,"c":"thick","m":"u"},{"x":16.5,"y":-14.2,"c":"thick","m":"u"},{"x":17.4,"y":-13.3,"c":"thick","m":"u"},{"x":18.5,"y":-14,"c":"thick","m":"u"},{"x":20.2,"y":-15.1,"c":"thick","m":"u"},{"x":19.7,"y":-14.9,"c":"thick","m":"u"},{"x":17.1,"y":-15.1,"c":"thick","m":"u"},{"x":13.6,"y":-15.5,"c":"thick","m":"u"},{"x":14.8,"y":-15.3,"c":"thick","m":"u"},{"x":16.5,"y":-17.1,"c":"thick","m":"u"},{"x":12.3,"y":-16.8,"c":"thick","m":"u"},{"x":13.3,"y":-16.2,"c":"thick","m":"u"},{"x":17.1,"y":-16,"c":"thick","m":"u"},{"x":27.3,"y":3.3,"c":"thick","m":"u"},{"x":25.6,"y":2.5,"c":"thick","m":"u"},{"x":-11.5,"y":-16.6,"c":"thick","m":"u"},{"x":-10.6,"y":-14,"c":"thick","m":"u"},{"x":10,"y":-15.5,"c":"thick","m":"u"},{"x":11.5,"y":-14.8,"c":"thick","m":"u"},{"x":13,"y":-14.2,"c":"thick","m":"u"},{"x":14,"y":-12.8,"c":"thick","m":"u"},{"x":15,"y":-12.5,"c":"thick","m":"u"},{"x":16,"y":-13.4,"c":"thick","m":"u"},{"x":17,"y":-13,"c":"thick","m":"u"},{"x":18,"y":-13,"c":"thick","m":"u"},{"x":15.5,"y":-15.5,"c":"thick","m":"u"},{"x":14.5,"y":-16.6,"c":"thick","m":"u"},{"x":13,"y":-17.2,"c":"thick","m":"u"},{"x":12,"y":-15.6,"c":"thick","m":"u"},{"x":11,"y":-15.8,"c":"thick","m":"u"},{"x":18,"y":-15.4,"c":"thick","m":"u"},
{"x":27.3,"y":3.7,"c":"thin","m":"u"},{"x":26.5,"y":0.3,"c":"thin","m":"u"},{"x":10.4,"y":-16.6,"c":"thin","m":"u"},{"x":11.2,"y":-16.8,"c":"thin","m":"u"},{"x":14.8,"y":-18,"c":"thin","m":"u"},
{"x":19.7,"y":8.5,"c":"normal","m":"h"},{"x":23.7,"y":9.8,"c":"normal","m":"h"},{"x":21.4,"y":3.3,"c":"normal","m":"h"},{"x":22.3,"y":3.5,"c":"normal","m":"h"},{"x":21.1,"y":2.6,"c":"normal","m":"h"},{"x":23.1,"y":2.2,"c":"normal","m":"h"},{"x":14.8,"y":0.2,"c":"normal","m":"h"},{"x":13.6,"y":-0.5,"c":"normal","m":"h"},{"x":10.4,"y":-3.3,"c":"normal","m":"h"},{"x":9,"y":-2.9,"c":"normal","m":"h"},{"x":13.6,"y":-2.2,"c":"normal","m":"h"},{"x":17.7,"y":-2,"c":"normal","m":"h"},{"x":15.6,"y":-1.8,"c":"normal","m":"h"},{"x":16.8,"y":-1.6,"c":"normal","m":"h"},{"x":19.1,"y":1.3,"c":"normal","m":"h"},{"x":8.1,"y":-4.4,"c":"normal","m":"h"},{"x":9.3,"y":-5.7,"c":"normal","m":"h"},{"x":11,"y":-5.3,"c":"normal","m":"h"},{"x":10.4,"y":-3.7,"c":"normal","m":"h"},{"x":12.7,"y":-6,"c":"normal","m":"h"},{"x":11.2,"y":-9.6,"c":"normal","m":"h"},{"x":5.8,"y":-10.5,"c":"normal","m":"h"},{"x":6.1,"y":-12.3,"c":"normal","m":"h"},{"x":4.1,"y":-14.4,"c":"normal","m":"h"},{"x":-0.3,"y":-15.5,"c":"normal","m":"h"},{"x":21.8,"y":3,"c":"normal","m":"h"},{"x":22,"y":2.4,"c":"normal","m":"h"},{"x":13,"y":-2.7,"c":"normal","m":"h"},{"x":14.5,"y":-3,"c":"normal","m":"h"},{"x":12,"y":-3,"c":"normal","m":"h"},{"x":11,"y":-2.5,"c":"normal","m":"h"},{"x":10,"y":-4.2,"c":"normal","m":"h"},{"x":11.5,"y":-4.5,"c":"normal","m":"h"},{"x":12,"y":-1.8,"c":"normal","m":"h"},{"x":14.5,"y":-1,"c":"normal","m":"h"},
{"x":22.7,"y":9.2,"c":"thick","m":"h"},{"x":24.3,"y":10,"c":"thick","m":"h"},{"x":19.1,"y":1.5,"c":"thick","m":"h"},{"x":19.1,"y":0.4,"c":"thick","m":"h"},{"x":19.4,"y":3.7,"c":"thick","m":"h"},{"x":13.3,"y":-4,"c":"thick","m":"h"},{"x":8.1,"y":-4.5,"c":"thick","m":"h"},{"x":14.2,"y":-4.8,"c":"thick","m":"h"},{"x":15,"y":-4.4,"c":"thick","m":"h"},{"x":15.9,"y":-4.8,"c":"thick","m":"h"},{"x":13.9,"y":-5.7,"c":"thick","m":"h"},{"x":15,"y":-5.5,"c":"thick","m":"h"},{"x":15.6,"y":-4.2,"c":"thick","m":"h"},{"x":3.8,"y":-9.4,"c":"thick","m":"h"},{"x":4.7,"y":-11.5,"c":"thick","m":"h"},{"x":7.7,"y":-11.4,"c":"thick","m":"h"},{"x":6.7,"y":-12,"c":"thick","m":"h"},{"x":3.8,"y":-12.7,"c":"thick","m":"h"},{"x":5.5,"y":-12.5,"c":"thick","m":"h"},{"x":4.7,"y":-14,"c":"thick","m":"h"},{"x":5.8,"y":-16.4,"c":"thick","m":"h"},{"x":5,"y":-13.4,"c":"thick","m":"h"},{"x":6.4,"y":-13.3,"c":"thick","m":"h"},{"x":5,"y":-10.8,"c":"thick","m":"h"},{"x":7,"y":-13,"c":"thick","m":"h"},{"x":3.5,"y":-13.5,"c":"thick","m":"h"},{"x":7,"y":-14.2,"c":"thick","m":"h"},{"x":2.8,"y":-14.5,"c":"thick","m":"h"},{"x":5,"y":-16,"c":"thick","m":"h"},{"x":7.2,"y":-15.2,"c":"thick","m":"h"},{"x":13,"y":-5.6,"c":"thick","m":"h"},{"x":16.3,"y":-3.9,"c":"thick","m":"h"},{"x":16.5,"y":-5.6,"c":"thick","m":"h"},{"x":15.2,"y":-6.6,"c":"thick","m":"h"},{"x":13.6,"y":-6.7,"c":"thick","m":"h"},{"x":12.8,"y":-4.5,"c":"thick","m":"h"},{"x":14.8,"y":-3.3,"c":"thick","m":"h"},{"x":13.8,"y":-3,"c":"thick","m":"h"},
{"x":13.6,"y":1.8,"c":"thin","m":"h"},{"x":16.8,"y":4.6,"c":"thin","m":"h"},{"x":17.1,"y":2.6,"c":"thin","m":"h"},{"x":17.4,"y":3.7,"c":"thin","m":"h"},{"x":16.5,"y":3.5,"c":"thin","m":"h"},{"x":17,"y":4.2,"c":"thin","m":"h"},{"x":16.8,"y":3,"c":"thin","m":"h"},{"x":18,"y":3,"c":"thin","m":"h"},{"x":22.6,"y":8.1,"c":"thin","m":"h"},{"x":24,"y":3.7,"c":"thin","m":"h"},{"x":25.2,"y":4.8,"c":"thin","m":"h"},{"x":8.3,"y":-0.8,"c":"thin","m":"h"},{"x":10.1,"y":-1.6,"c":"thin","m":"h"},{"x":20,"y":-1.3,"c":"thin","m":"h"},{"x":16.5,"y":-3.3,"c":"thin","m":"h"},{"x":20.2,"y":8.3,"c":"thin","m":"h"},{"x":10.4,"y":-7.6,"c":"thin","m":"h"},{"x":5.5,"y":-15.3,"c":"thin","m":"h"},{"x":8.1,"y":-4.7,"c":"thin","m":"h"},{"x":-0.9,"y":-19.2,"c":"thin","m":"h"},
{"x":26.5,"y":5.8,"c":"thin","m":"a"}
]},
"mark":{"type":"point","filled":false,"opacity":1,"strokeWidth":5.5,"size":620,"clip":true},
"encoding":{
"x":{"field":"x","type":"quantitative","scale":{"domain":[-40,40],"nice":false,"zero":false},"axis":{"orient":"bottom","title":null,"values":[-40,-20,0,20,40],"grid":true,"gridColor":"#e6e6e6","gridWidth":3,"domain":true,"domainColor":"#262626","domainWidth":3,"tickColor":"#262626","tickWidth":2,"tickSize":-9,"labelPadding":40,"labelOffset":-6,"labelExpr":"replace(datum.label,'−','-')","labelFont":"Liberation Sans","labelFontSize":56,"labelColor":"#404040","labelFlush":false,"labelOverlap":false}},
"y":{"field":"y","type":"quantitative","scale":{"domain":[-30,30],"nice":false,"zero":false},"axis":{"orient":"left","title":null,"values":[-30,-20,-10,0,10,20,30],"grid":true,"gridColor":"#e6e6e6","gridWidth":3,"domain":true,"domainColor":"#262626","domainWidth":3,"tickColor":"#262626","tickWidth":2,"tickSize":-9,"labelPadding":41,"labelOffset":4,"labelExpr":"replace(datum.label,'−','-')","labelFont":"Liberation Sans","labelFontSize":56,"labelColor":"#404040","labelOverlap":false}},
"stroke":{"field":"c","type":"nominal","scale":{"domain":["thin","normal","thick"],"range":["#0072BD","#D95319","#EDB120"]},"legend":{"title":" ","titleOrient":"right","titlePadding":23,"titleFontSize":2,"orient":"none","legendX":498,"legendY":0,"fillColor":"white","strokeColor":"#262626","padding":17,"symbolType":"M-0.95,-0.95L0.95,-0.95L0.95,-0.79L-0.95,-0.79L-0.95,-0.63L0.95,-0.63L0.95,-0.47L-0.95,-0.47L-0.95,-0.31L0.95,-0.31L0.95,-0.15L-0.95,-0.15L-0.95,0L0.95,0L0.95,0.15L-0.95,0.15L-0.95,0.31L0.95,0.31L0.95,0.47L-0.95,0.47L-0.95,0.63L0.95,0.63L0.95,0.79L-0.95,0.79L-0.95,0.95L0.95,0.95","symbolSize":1000,"symbolStrokeWidth":3,"symbolOpacity":1,"symbolOffset":73,"labelFont":"Liberation Sans","labelFontSize":52,"labelColor":"#262626","labelOffset":84,"rowPadding":18,"labelLimit":320}},
"shape":{"field":"m","type":"nominal","legend":null,"scale":{"domain":["o","d","s","v","u","p","h","x","t","a"],"range":["M1,0A1,1,0,1,1,-1,0A1,1,0,1,1,1,0Z","M0,-1.2L0.95,0L0,1.2L-0.95,0Z","M-0.85,-0.85L0.85,-0.85L0.85,0.85L-0.85,0.85Z","M-1.04,-0.75L1.04,-0.75L0,0.92Z","M-1.04,0.75L1.04,0.75L0,-0.92Z","M0,-1L0.235,-0.324L0.951,-0.309L0.38,0.124L0.588,0.809L0,0.4L-0.588,0.809L-0.38,0.124L-0.951,-0.309L-0.235,-0.324Z","M0,-1L0.289,-0.5L0.866,-0.5L0.577,0L0.866,0.5L0.289,0.5L0,1L-0.289,0.5L-0.866,0.5L-0.577,0L-0.866,-0.5L-0.289,-0.5Z","M-0.9,-0.9L0.9,0.9M-0.9,0.9L0.9,-0.9","M-1.2,0L1.2,0M0,-1.2L0,1.2","M-1.15,0L1.15,0M0,-1.15L0,1.15M-0.8,-0.8L0.8,0.8M-0.8,0.8L0.8,-0.8"]}}
}},
{"data":{"values":[{"x":-40,"y":-30}]},"mark":{"type":"point","opacity":0},"encoding":{
"x":{"field":"x","type":"quantitative","axis":{"orient":"top","title":null,"values":[-40,-20,0,20,40],"grid":false,"labels":false,"domainColor":"#262626","domainWidth":3,"tickColor":"#262626","tickWidth":2,"tickSize":-9}},
"y":{"field":"y","type":"quantitative","axis":{"orient":"right","title":null,"values":[-30,-20,-10,0,10,20,30],"grid":false,"labels":false,"domainColor":"#262626","domainWidth":3,"tickColor":"#262626","tickWidth":2,"tickSize":-9}}
}}],
"resolve":{"axis":{"x":"independent","y":"independent"}}
}
